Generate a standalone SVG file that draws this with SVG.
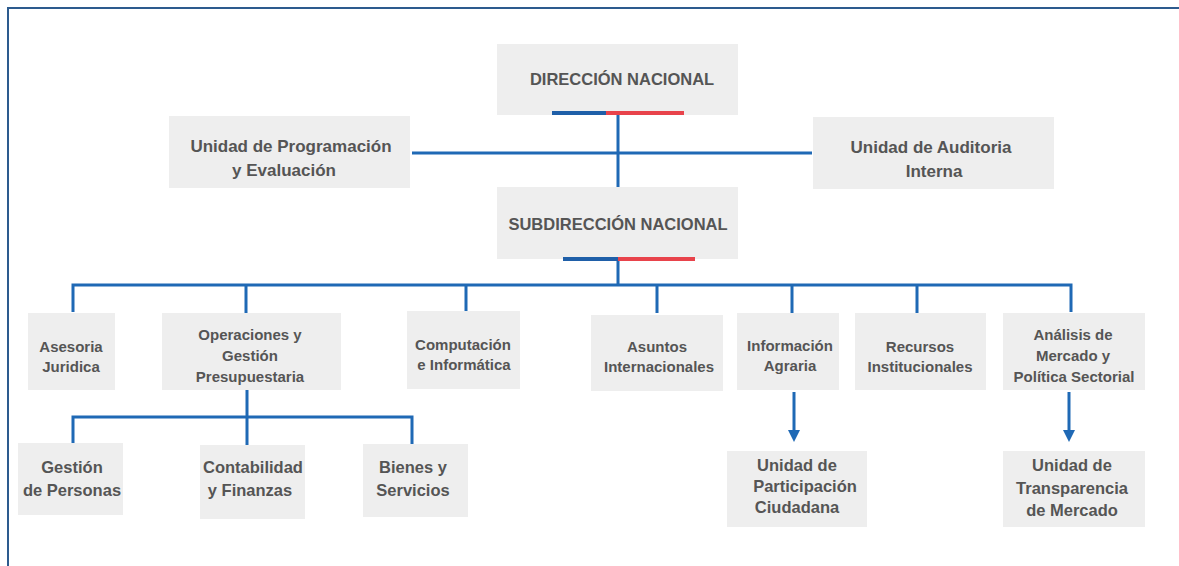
<svg xmlns="http://www.w3.org/2000/svg" width="1179" height="566" viewBox="0 0 1179 566">
<style>
.box{fill:#eeeeee}
.t{font-family:"Liberation Sans",Arial,sans-serif;font-weight:bold;fill:#555555;text-anchor:middle}
.t1{font-size:16.5px}
.t2{font-size:17px}
.t3{font-size:15px}
.t4{font-size:16.5px}
.ln{stroke:#1f69b5;stroke-width:3;fill:none}
</style>
<defs>
<marker id="ah" viewBox="0 0 10 10" refX="5" refY="5" markerWidth="4" markerHeight="4" orient="auto" markerUnits="strokeWidth">
<path d="M0,0 L10,5 L0,10 z" fill="#1f69b5"/>
</marker>
</defs>
<rect x="0" y="0" width="1179" height="566" fill="#ffffff"/>
<rect x="8" y="8" width="1190" height="580" fill="none" stroke="#2d5b8e" stroke-width="2"/>

<g id="connectors">
<line class="ln" x1="618" y1="113" x2="618" y2="187"/>
<line class="ln" x1="412" y1="153" x2="812" y2="153"/>
<line class="ln" x1="618" y1="259" x2="618" y2="285"/>
<polyline class="ln" points="73,312 73,285 1071,285 1071,312"/>
<line class="ln" x1="246" y1="285" x2="246" y2="313"/>
<line class="ln" x1="466" y1="285" x2="466" y2="311"/>
<line class="ln" x1="657" y1="285" x2="657" y2="313"/>
<line class="ln" x1="792" y1="285" x2="792" y2="313"/>
<line class="ln" x1="917" y1="285" x2="917" y2="313"/>
<line class="ln" x1="247" y1="390" x2="247" y2="445"/>
<polyline class="ln" points="73,443 73,417 412,417 412,444"/>
<line class="ln" x1="794" y1="392" x2="794" y2="436" marker-end="url(#ah)"/>
<line class="ln" x1="1069" y1="392" x2="1069" y2="436" marker-end="url(#ah)"/>
</g>

<g id="direccion">
<rect class="box" x="497" y="44" width="241" height="71"/>
<text class="t t1" x="622" y="85">DIRECCIÓN NACIONAL</text>
<rect x="552" y="111" width="54" height="4" fill="#1f5fa8"/>
<rect x="606" y="111" width="78" height="4" fill="#e8434b"/>
</g>
<g id="programacion">
<rect class="box" x="169" y="116" width="241" height="72"/>
<text class="t t2" x="291" y="152">Unidad de Programación</text>
<text class="t t2" x="284" y="176">y Evaluación</text>
</g>
<g id="auditoria">
<rect class="box" x="813" y="117" width="241" height="72"/>
<text class="t t2" x="931" y="153">Unidad de Auditoria</text>
<text class="t t2" x="934" y="177">Interna</text>
</g>
<g id="subdireccion">
<rect class="box" x="497" y="187" width="241" height="72"/>
<text class="t t1" x="618" y="230">SUBDIRECCIÓN NACIONAL</text>
<rect x="563" y="257" width="55" height="4" fill="#1f5fa8"/>
<rect x="618" y="257" width="77" height="4" fill="#e8434b"/>
</g>

<g id="asesoria">
<rect class="box" x="28" y="313" width="87" height="77"/>
<text class="t t3" x="71" y="352">Asesoria</text>
<text class="t t3" x="71" y="372">Juridica</text>
</g>
<g id="operaciones">
<rect class="box" x="162" y="313" width="179" height="77"/>
<text class="t t3" x="250" y="340">Operaciones y</text>
<text class="t t3" x="250" y="361">Gestión</text>
<text class="t t3" x="250" y="382">Presupuestaria</text>
</g>
<g id="computacion">
<rect class="box" x="407" y="311" width="113" height="78"/>
<text class="t t3" x="463" y="350">Computación</text>
<text class="t t3" x="464" y="370">e Informática</text>
</g>
<g id="asuntos">
<rect class="box" x="591" y="315" width="132" height="76"/>
<text class="t t3" x="657" y="352">Asuntos</text>
<text class="t t3" x="659" y="372">Internacionales</text>
</g>
<g id="informacion">
<rect class="box" x="737" y="313" width="102" height="77"/>
<text class="t t3" x="790" y="351">Información</text>
<text class="t t3" x="790" y="371">Agraria</text>
</g>
<g id="recursos">
<rect class="box" x="855" y="313" width="131" height="77"/>
<text class="t t3" x="920" y="352">Recursos</text>
<text class="t t3" x="920" y="372">Institucionales</text>
</g>
<g id="analisis">
<rect class="box" x="1003" y="313" width="142" height="77"/>
<text class="t t3" x="1073" y="340">Análisis de</text>
<text class="t t3" x="1073" y="361">Mercado y</text>
<text class="t t3" x="1074" y="382">Política Sectorial</text>
</g>

<g id="gestion">
<rect class="box" x="18" y="443" width="105" height="72"/>
<text class="t t4" x="72" y="473">Gestión</text>
<text class="t t4" x="72" y="496">de Personas</text>
</g>
<g id="contabilidad">
<rect class="box" x="200" y="445" width="105" height="74"/>
<text class="t t4" x="253" y="473">Contabilidad</text>
<text class="t t4" x="250" y="496">y Finanzas</text>
</g>
<g id="bienes">
<rect class="box" x="363" y="444" width="105" height="73"/>
<text class="t t4" x="413" y="473">Bienes y</text>
<text class="t t4" x="413" y="496">Servicios</text>
</g>
<g id="participacion">
<rect class="box" x="727" y="451" width="140" height="76"/>
<text class="t t4" x="797" y="471">Unidad de</text>
<text class="t t4" x="805" y="492">Participación</text>
<text class="t t4" x="797" y="513">Ciudadana</text>
</g>
<g id="transparencia">
<rect class="box" x="1003" y="451" width="142" height="76"/>
<text class="t t4" x="1072" y="471">Unidad de</text>
<text class="t t4" x="1072" y="494">Transparencia</text>
<text class="t t4" x="1072" y="516">de Mercado</text>
</g>
</svg>
